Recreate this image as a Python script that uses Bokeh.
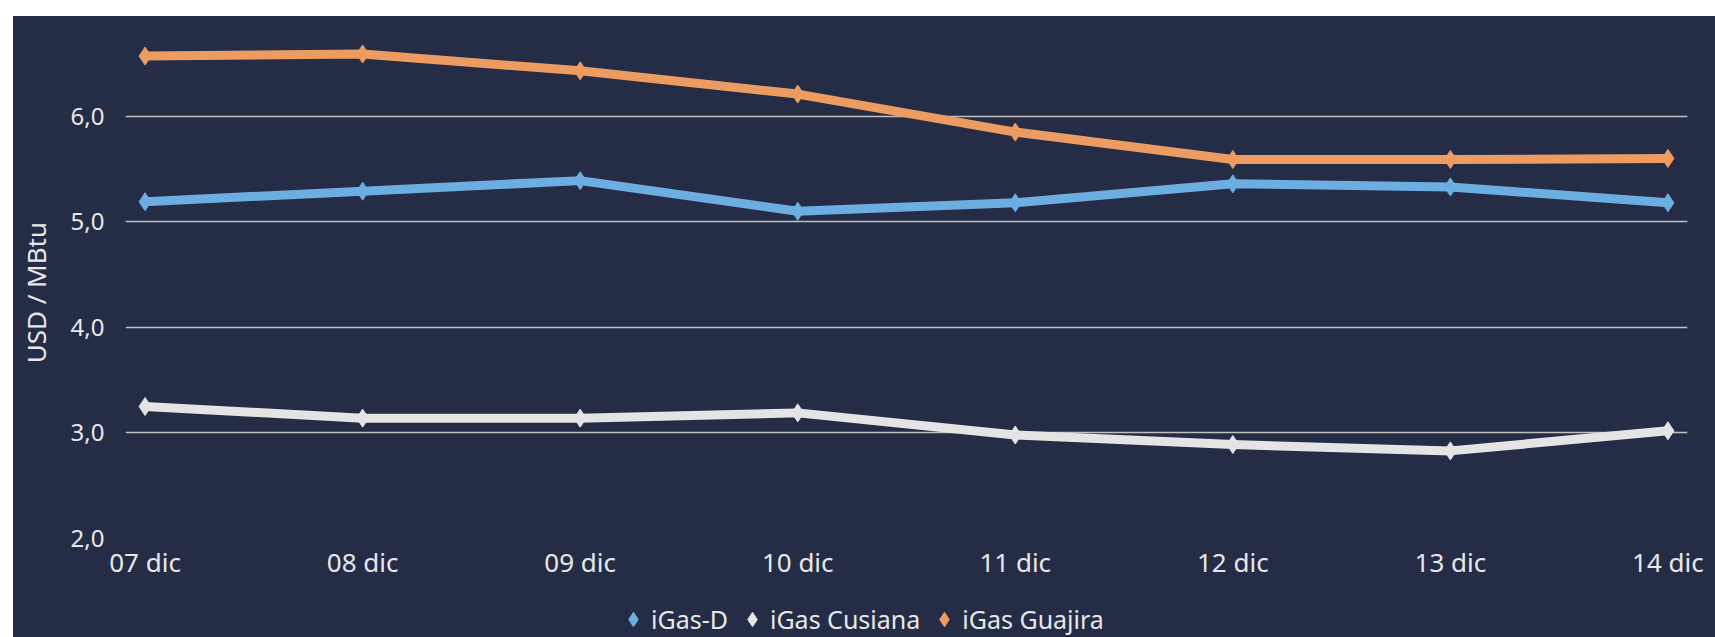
from bokeh.plotting import figure
from bokeh.layouts import column
from bokeh.models import (FixedTicker, CustomJSTickFormatter, Legend, LegendItem,
                          Range1d, ColumnDataSource)
from bokeh.embed import file_html
from bokeh.resources import INLINE

# ---- data ----
dates = ["07 dic", "08 dic", "09 dic", "10 dic", "11 dic", "12 dic", "13 dic", "14 dic"]
igas_d = [5.19, 5.29, 5.39, 5.10, 5.18, 5.36, 5.33, 5.18]
igas_cusiana = [3.25, 3.14, 3.14, 3.19, 2.98, 2.89, 2.83, 3.02]
igas_guajira = [6.57, 6.59, 6.43, 6.21, 5.85, 5.59, 5.59, 5.60]
y_ticks = [2.0, 3.0, 4.0, 5.0, 6.0]

series = [
    ("iGas-D", igas_d, "#6caee2"),
    ("iGas Cusiana", igas_cusiana, "#e4e4e4"),
    ("iGas Guajira", igas_guajira, "#ed9c61"),
]

BG = "#252c46"
TXT = "#e8e8e8"
FONT = "Noto Sans"
W = 1702

x_idx = list(range(len(dates)))

p = figure(width=W, height=574, output_backend="svg", toolbar_location=None,
           x_range=Range1d(-0.09, len(dates) - 1 + 0.09),
           y_range=Range1d(2.0, 6.85),
           background_fill_color=BG, border_fill_color=None,
           styles={"background-color": BG},
           min_border_left=112, min_border_right=28, min_border_top=10,
           min_border_bottom=52, margin=(16, 0, 0, 13))
p.outline_line_color = None

for name, vals, col in series:
    src = ColumnDataSource(dict(x=x_idx, y=vals))
    p.line("x", "y", source=src, line_color=col, line_width=9, line_join="round")
    p.scatter("x", "y", source=src, marker="diamond", size=18,
              fill_color=col, line_color=col)

# axes
p.xaxis.ticker = FixedTicker(ticks=x_idx)
p.xaxis.major_label_overrides = {i: d for i, d in enumerate(dates)}
p.yaxis.ticker = FixedTicker(ticks=y_ticks)
p.yaxis.formatter = CustomJSTickFormatter(code="return tick.toFixed(1).replace('.', ',');")
for ax in (p.xaxis[0], p.yaxis[0]):
    ax.axis_line_color = None
    ax.major_tick_line_color = None
    ax.minor_tick_line_color = None
    ax.major_tick_out = 0
    ax.major_tick_in = 0
    ax.major_label_text_color = TXT
    ax.major_label_text_font = FONT
p.xaxis.major_label_text_font_size = "26px"
p.yaxis.major_label_text_font_size = "24px"
p.xaxis.major_label_standoff = 5
p.yaxis.major_label_standoff = 21
p.yaxis.axis_label = "USD / MBtu\u00a0\u00a0\u00a0"
p.yaxis.axis_label_text_color = TXT
p.yaxis.axis_label_text_font = FONT
p.yaxis.axis_label_text_font_size = "26px"
p.yaxis.axis_label_text_font_style = "normal"
p.yaxis.axis_label_standoff = 14

p.xgrid.grid_line_color = None
p.ygrid.grid_line_color = "#bfbfbf"
p.ygrid.grid_line_width = 1.5

# legend strip
pl = figure(width=W, height=47, output_backend="svg", toolbar_location=None,
            x_range=Range1d(0, 1), y_range=Range1d(0, 1),
            x_axis_location=None, y_axis_location=None,
            background_fill_color=BG, border_fill_color=None,
            styles={"background-color": BG},
            min_border=0, margin=(0, 0, 0, 13))
pl.outline_line_color = None
pl.grid.visible = False
items = []
for name, vals, col in series:
    r = pl.scatter(x=[-5], y=[-5], marker="diamond",
                   fill_color=col, line_color=col)
    items.append(LegendItem(label=name, renderers=[r]))
legend = Legend(items=items, orientation="horizontal", location=(490, 0),
                background_fill_alpha=0, border_line_color=None,
                label_text_color=TXT, label_text_font=FONT,
                label_text_font_size="25px", glyph_width=36, glyph_height=36,
                label_standoff=0, spacing=6, padding=0, margin=0)
pl.add_layout(legend)

layout = column(p, pl, spacing=0)
open("out.html", "w").write(file_html(layout, INLINE))
